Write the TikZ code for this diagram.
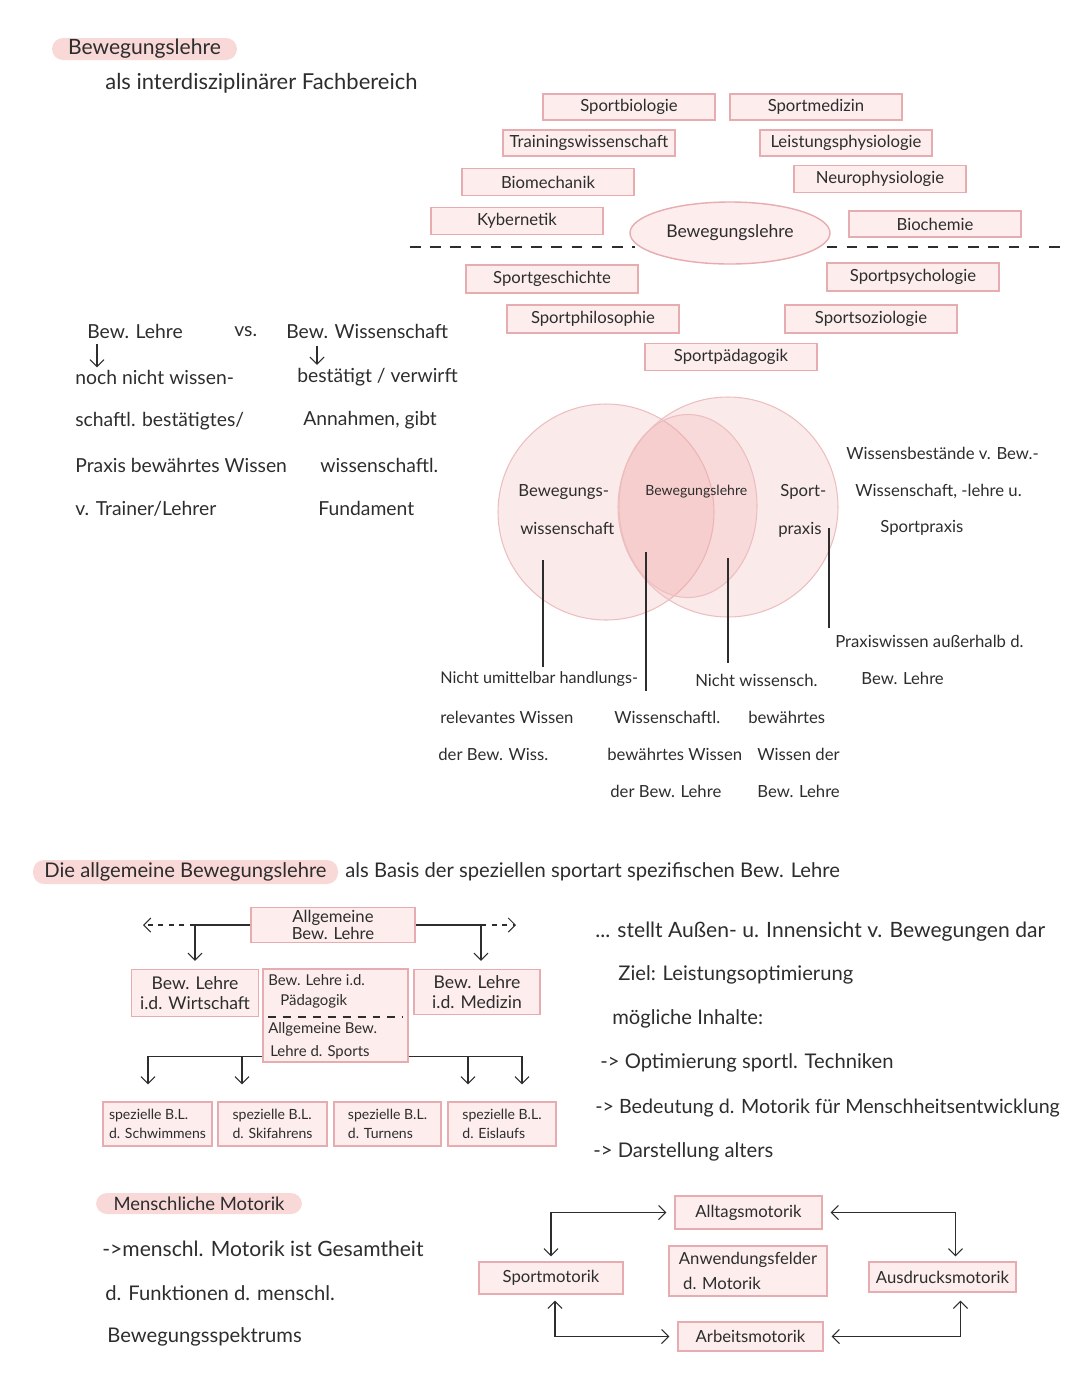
\documentclass[tikz,border=0pt]{standalone}
\usepackage{fontspec}
\setmainfont{Lato}
\usetikzlibrary{arrows.meta,positioning,shapes.geometric}
\definecolor{inkgray}{RGB}{45,45,45}
\definecolor{boxfill}{RGB}{253,237,237}
\definecolor{boxline}{RGB}{230,172,176}
\definecolor{hlpink}{RGB}{249,216,216}
\definecolor{vennfill}{RGB}{240,170,170}
\definecolor{vennline}{RGB}{236,190,192}
\newlength{\px}
\setlength{\px}{0.02cm}

\begin{document}
\begin{tikzpicture}[
  x=0.02cm, y=-0.02cm,
  txt/.style={anchor=west, inner sep=0pt, text=inkgray, font=\fontsize{11}{13}\selectfont},
  small/.style={txt, font=\fontsize{9.5}{11}\selectfont},
  big/.style={txt, font=\fontsize{11.5}{13}\selectfont},
  fach/.style={rectangle, draw=boxline, fill=boxfill, line width=0.8pt,
    minimum width=172\px, minimum height=26\px, inner sep=0pt,
    text=inkgray, font=\fontsize{9.5}{11}\selectfont},
  hl/.style={rectangle, rounded corners=11\px, fill=hlpink, inner sep=0pt, text=inkgray},
  venn/.style={circle, draw=vennline, fill=vennfill, fill opacity=0.25,
    text opacity=1, inner sep=0pt, line width=0.6pt},
  leader/.style={draw=inkgray, line width=0.6pt},
  conn/.style={leader, -{Straight Barb[length=4pt,width=8pt]}},
  dblarr/.style={leader, {Straight Barb[length=4pt,width=8pt]}-{Straight Barb[length=4pt,width=8pt]}}
]
\useasboundingbox (0,0) rectangle (1080,1397);

% Title
\node[hl, minimum width=185\px, minimum height=22\px, font=\fontsize{12}{14}\selectfont] (ttl) at (144.5,49) {Bewegungslehre};
\node[txt, font=\fontsize{12.5}{14}\selectfont] (sub) at (105,83) {als interdisziplinärer Fachbereich};

% Fachbereiche around the Bewegungslehre
\node[fach] (sbio) at (629,107) {Sportbiologie};
\node[fach] (smed) at (816,107) {Sportmedizin};
\node[fach] (trw) at (589,143) {Trainingswissenschaft};
\node[fach] (lph) at (846,143) {Leistungsphysiologie};
\node[fach, minimum height=27\px] (biom) at (548,182) {Biomechanik};
\node[fach, minimum height=27\px] (neur) at (880,179) {Neurophysiologie};
\node[fach, minimum height=27\px] (kyb) at (517,221) {Kybernetik};
\node[fach] (bioc) at (935,224) {Biochemie};
\node[ellipse, draw=boxline, fill=boxfill, line width=0.8pt, minimum width=200\px,
  minimum height=62\px, inner sep=0pt, text=inkgray, font=\fontsize{10}{12}\selectfont] (bwl) at (730,233) {Bewegungslehre};
\node[fach, minimum height=28\px] (sges) at (552,279) {Sportgeschichte};
\node[fach, minimum height=28\px] (spsy) at (913,277) {Sportpsychologie};
\node[fach, minimum height=28\px] (sphi) at (593,319) {Sportphilosophie};
\node[fach, minimum height=28\px] (ssoz) at (871,319) {Sportsoziologie};
\node[fach, minimum height=27\px] (spaed) at (731,357) {Sportpädagogik};

\coordinate (dl) at (410,247);
\coordinate (dr) at (1060,247);
\draw[leader, dash pattern=on 6pt off 5.5pt] (dl) -- ([xshift=6\px]bwl.west |- dl);
\draw[leader, dash pattern=on 6pt off 5.5pt] ([xshift=-4\px]bwl.east |- dl) -- (dr);

% Lehre vs. Wissenschaft
\node[txt] (blh) at (87,331) {Bew. Lehre};
\node[txt] (vs) at (234,332) {vs.};
\node[txt] (bwh) at (286,331) {Bew. Wissenschaft};
\node[txt] (bl1) at (75,377) {noch nicht wissen-};
\node[txt] (bl2) at (75,421) {schaftl. bestätigtes/};
\node[txt] (bl3) at (75,465) {Praxis bewährtes Wissen};
\node[txt] (bl4) at (75,509) {v. Trainer/Lehrer};
\node[txt] (bw1) at (297,377) {bestätigt / verwirft};
\node[txt] (bw2) at (303,420) {Annahmen, gibt};
\node[txt] (bw3) at (320,465) {wissenschaftl.};
\node[txt] (bw4) at (318,508) {Fundament};
\draw[conn, shorten <=5\px, shorten >=2\px] (blh.south -| 97,0) -- (bl1.north -| 97,0);
\draw[conn, shorten <=7\px, shorten >=3\px] (bwh.south -| 317,0) -- (bw1.north -| 317,0);

% Venn diagram
\node[venn, minimum size=216\px] (vwiss) at (606,512) {};
\node[venn, minimum size=220\px] (vprax) at (728,507) {};
\node[venn, ellipse, minimum width=138\px, minimum height=183\px] (vlehre) at (688,506) {};
\node[small] (vw1) at (518,492) {Bewegungs-};
\node[small] (vw2) at (520,528) {wissenschaft};
\node[txt, font=\fontsize{8}{10}\selectfont] (vl1) at (645,492) {Bewegungslehre};
\node[small] (vp1) at (780,492) {Sport-};
\node[small] (vp2) at (778,530) {praxis};
\node[small] (rt1) at (846,453) {Wissensbestände v. Bew.-};
\node[small] (rt2) at (855,491) {Wissenschaft, -lehre u.};
\node[small] (rt3) at (880,528) {Sportpraxis};

\node[small, font=\fontsize{9.2}{11}\selectfont] (la1) at (440,679) {Nicht umittelbar handlungs-};
\node[small] (la2) at (440,717) {relevantes Wissen};
\node[small] (la3) at (438,754) {der Bew. Wiss.};
\node[small] (lb1) at (614,717) {Wissenschaftl.};
\node[small] (lb2) at (607,754) {bewährtes Wissen};
\node[small] (lb3) at (610,791) {der Bew. Lehre};
\node[small] (lc1) at (695,680) {Nicht wissensch.};
\node[small] (lc2) at (748,717) {bewährtes};
\node[small] (lc3) at (757,754) {Wissen der};
\node[small] (lc4) at (757,791) {Bew. Lehre};
\node[small] (ld1) at (835,641) {Praxiswissen außerhalb d.};
\node[small] (ld2) at (861,678) {Bew. Lehre};

\coordinate (ca) at (543,560);
\coordinate (cb) at (646,552);
\coordinate (cc) at (728,558);
\coordinate (cd) at (829,528);
\draw[leader] (ca) -- ([yshift=4\px]ca |- la1.north);
\draw[leader] (cb) -- ([yshift=-4\px]cb |- la1.south);
\draw[leader] (cc) -- ([yshift=10\px]cc |- lc1.north);
\draw[leader] (cd) -- ([yshift=6\px]cd |- ld1.north);

% Allgemeine Bewegungslehre
\node[hl, minimum width=305\px, minimum height=24\px, font=\fontsize{11.5}{13}\selectfont] (allgtl) at (185.5,872) {Die allgemeine Bewegungslehre};
\node[txt, font=\fontsize{11.5}{13}\selectfont] (allgsub) at (345,872) {als Basis der speziellen sportart spezifischen Bew. Lehre};

\node[fach, minimum width=164\px, minimum height=35\px, align=center,
  font=\fontsize{9.5}{9.5}\selectfont] (allg) at (333,925) {Allgemeine\\Bew. Lehre};
\node[fach, minimum width=127\px, minimum height=47\px, align=center,
  font=\fontsize{10}{11.5}\selectfont] (wirt) at (195,993) {Bew. Lehre\\i.d. Wirtschaft};
\node[fach, minimum width=126\px, minimum height=45\px, align=center,
  font=\fontsize{10}{11.5}\selectfont] (med) at (477,992) {Bew. Lehre\\i.d. Medizin};
\node[fach, minimum width=145\px, minimum height=93\px] (paed) at (335.5,1015.5) {};
\node[txt, font=\fontsize{8.5}{10}\selectfont] (pd1) at (268,980) {Bew. Lehre i.d.};
\node[txt, font=\fontsize{8.5}{10}\selectfont] (pd2) at (280,1001) {Pädagogik};
\node[txt, font=\fontsize{8.5}{10}\selectfont] (pd3) at (268,1029) {Allgemeine Bew.};
\node[txt, font=\fontsize{8.5}{10}\selectfont] (pd4) at (270,1052) {Lehre d. Sports};
\coordinate (pdl) at (268,1017);
\coordinate (pdr) at (403,1017);
\draw[leader, dash pattern=on 4.5pt off 4pt] (pdl) -- (pdr);

\node[fach, minimum width=109\px, minimum height=44\px, align=left,
  font=\fontsize{8}{11}\selectfont] (sp1) at (157.5,1124) {spezielle B.L.\\d. Schwimmens};
\node[fach, minimum width=109\px, minimum height=44\px, align=left,
  font=\fontsize{8}{11}\selectfont] (sp2) at (272.5,1124) {spezielle B.L.\\d. Skifahrens};
\node[fach, minimum width=107\px, minimum height=44\px, align=left,
  font=\fontsize{8}{11}\selectfont] (sp3) at (387.5,1124) {spezielle B.L.\\d. Turnens};
\node[fach, minimum width=108\px, minimum height=44\px, align=left,
  font=\fontsize{8}{11}\selectfont] (sp4) at (502,1124) {spezielle B.L.\\d. Eislaufs};

\coordinate (lfree) at (143,925);
\coordinate (rfree) at (516,925);
\coordinate (rsplit) at (481,925);
\draw[conn, shorten >=8\px] (allg.west) -| (wirt.north);
\draw[conn, dash pattern=on 3pt off 3pt] (wirt.north |- allg.west) -- (lfree);
\draw[conn, shorten >=8\px] (allg.east) -| (rsplit |- med.north);
\draw[conn, dash pattern=on 3pt off 3pt] (rsplit) -- (rfree);

\coordinate (lsplit) at ([yshift=6.5\px]paed.south west);
\coordinate (rsplit2) at ([yshift=6.5\px]paed.south east);
\coordinate (a1) at (148,0);
\coordinate (a2) at (242,0);
\coordinate (a3) at (468,0);
\coordinate (a4) at (522,0);
\draw[conn, shorten >=17\px] (lsplit) -| (a1 |- sp1.north);
\draw[conn, shorten >=17\px] (a2 |- lsplit) -- (a2 |- sp2.north);
\draw[conn, shorten >=17\px] (rsplit2) -| (a4 |- sp4.north);
\draw[conn, shorten >=17\px] (a3 |- rsplit2) -- (a3 |- sp4.north);

% Ziel und Inhalte
\node[big, font=\fontsize{12}{14}\selectfont] (in1) at (595,932) {... stellt Außen- u. Innensicht v. Bewegungen dar};
\node[big] (in2) at (618,975) {Ziel: Leistungsoptimierung};
\node[big] (in3) at (612,1019) {mögliche Inhalte:};
\node[big] (in4) at (600,1063) {-> Optimierung sportl. Techniken};
\node[big, font=\fontsize{11.2}{13}\selectfont] (in5) at (595,1108) {-> Bedeutung d. Motorik für Menschheitsentwicklung};
\node[big] (in6) at (593,1152) {-> Darstellung alters};

% Menschliche Motorik
\node[hl, minimum width=206\px, minimum height=21\px, font=\fontsize{10.5}{12}\selectfont] (mmtl) at (199,1203.5) {Menschliche Motorik};
\node[big, font=\fontsize{12}{14}\selectfont] (mm1) at (102,1249) {->menschl. Motorik ist Gesamtheit};
\node[big] (mm2) at (105,1293) {d. Funktionen d. menschl.};
\node[big] (mm3) at (107,1337) {Bewegungsspektrums};

\node[fach, minimum width=147\px, minimum height=33\px] (allt) at (748.5,1212.5) {Alltagsmotorik};
\node[fach, minimum width=144\px, minimum height=32\px] (sportm) at (551,1278) {Sportmotorik};
\node[fach, minimum width=158\px, minimum height=50\px, align=left,
  font=\fontsize{9.5}{14}\selectfont] (anw) at (748,1271) {Anwendungsfelder\\\ d. Motorik};
\node[fach, minimum width=147\px, minimum height=30\px] (ausd) at (942.5,1277) {Ausdrucksmotorik};
\node[fach, minimum width=145\px, minimum height=29\px] (arb) at (750.5,1336.5) {Arbeitsmotorik};

\draw[dblarr, shorten <=5\px, shorten >=8\px] (sportm.north) |- (allt.west);
\draw[dblarr, shorten <=5\px, shorten >=8\px] ([xshift=13\px]ausd.north) |- (allt.east);
\draw[dblarr, shorten <=6\px, shorten >=8\px] ([xshift=4\px]sportm.south) |- (arb.west);
\draw[dblarr, shorten <=8\px, shorten >=8\px] ([xshift=18\px]ausd.south) |- (arb.east);

\end{tikzpicture}
\end{document}
